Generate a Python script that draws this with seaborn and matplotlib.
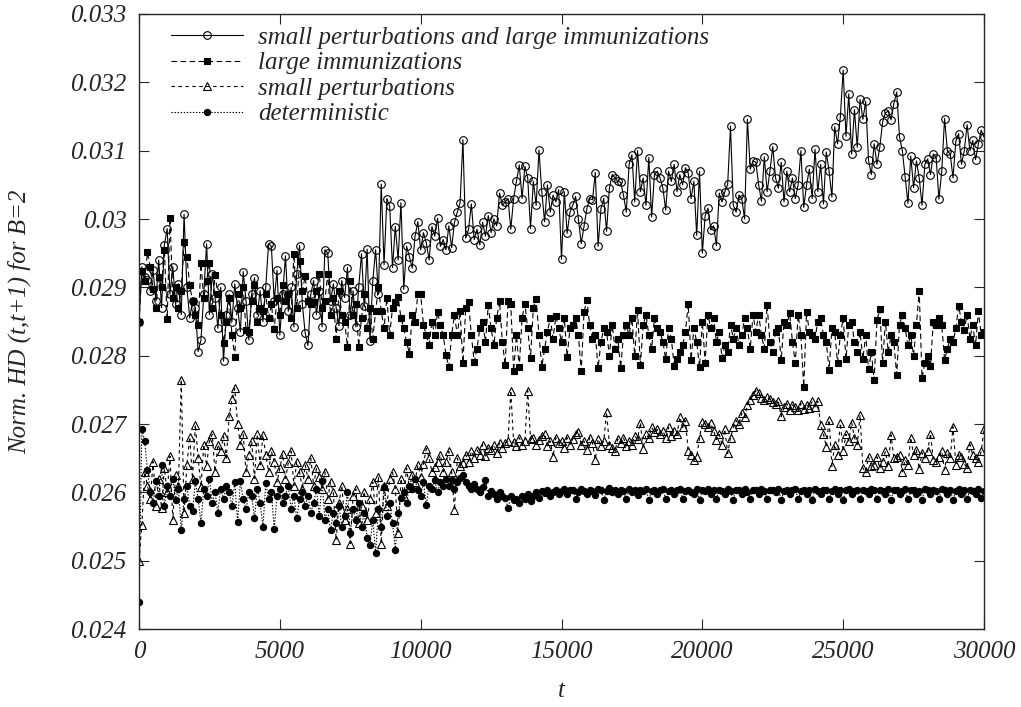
import numpy as np
import pandas as pd
import seaborn as sns
import matplotlib
matplotlib.use("Agg")
import matplotlib.pyplot as plt

# sample times (one point every 100 steps)
T_MAX = 30000
T_STEP = 100

# Norm. HD(t,t+1), in units of 1e-3
small_pert_large_imm = [
    28.50, 29.30, 29.15, 29.11, 28.95, 29.25, 28.80, 29.40, 28.70, 29.62,
    29.86, 28.90, 29.30, 28.75, 29.05, 28.60, 30.07, 29.00, 28.55, 28.80,
    28.70, 28.06, 28.23, 28.90, 29.64, 28.60, 29.20, 28.85, 28.40, 29.00,
    27.92, 28.60, 28.90, 28.50, 29.05, 28.70, 28.35, 29.23, 28.80, 28.23,
    28.90, 29.14, 28.60, 28.95, 28.50, 29.00, 29.64, 29.60, 28.80, 29.25,
    28.30, 28.90, 29.46, 28.65, 29.00, 28.42, 29.20, 29.61, 28.75, 28.33,
    28.15, 28.90, 29.10, 28.60, 28.95, 28.42, 29.55, 29.50, 28.80, 29.05,
    28.70, 28.44, 29.10, 28.85, 29.29, 28.60, 28.95, 28.42, 29.00, 29.49,
    28.72, 29.56, 28.22, 29.10, 29.55, 28.90, 30.51, 29.33, 30.30, 30.19,
    29.29, 29.89, 29.40, 30.24, 28.97, 29.60, 29.45, 29.28, 29.75, 29.96,
    29.55, 29.80, 29.65, 29.40, 29.89, 29.75, 30.01, 29.60, 29.70, 29.55,
    29.90, 29.58, 29.95, 30.10, 30.24, 31.16, 29.72, 29.85, 30.22, 29.70,
    29.85, 29.62, 29.95, 29.75, 30.05, 29.80, 30.00, 29.90, 30.38, 30.20,
    30.25, 30.30, 29.85, 30.30, 30.55, 30.79, 30.30, 30.77, 30.60, 29.86,
    30.55, 30.20, 31.01, 30.40, 29.96, 30.50, 30.10, 30.35, 30.25, 30.43,
    29.41, 30.40, 29.79, 30.10, 30.20, 30.33, 30.00, 29.64, 29.90, 30.15,
    30.30, 30.28, 30.68, 29.60, 30.15, 30.30, 29.82, 30.45, 30.65, 30.60,
    30.55, 30.54, 30.35, 30.10, 30.80, 30.94, 30.25, 31.00, 30.40, 30.60,
    30.20, 30.90, 30.03, 30.65, 30.70, 30.60, 30.45, 30.13, 30.70, 30.55,
    30.80, 30.40, 30.65, 30.50, 30.75, 30.67, 30.30, 30.55, 29.76, 30.70,
    29.50, 30.05, 30.16, 29.84, 29.90, 29.61, 30.38, 30.25, 30.40, 30.51,
    31.36, 30.20, 30.10, 30.35, 30.30, 30.00, 31.46, 30.73, 30.85, 30.83,
    30.50, 30.26, 30.91, 30.40, 30.70, 31.06, 30.60, 30.45, 30.83, 30.25,
    30.70, 30.40, 30.60, 30.30, 30.50, 31.00, 30.17, 30.50, 30.73, 30.30,
    31.02, 30.40, 30.80, 30.22, 30.98, 30.70, 30.32, 31.35, 31.10, 31.50,
    32.18, 31.21, 31.83, 30.95, 31.60, 31.05, 31.75, 31.46, 31.72, 30.86,
    30.65, 31.10, 30.80, 31.05, 31.42, 31.55, 31.58, 31.45, 31.69, 31.86,
    31.20, 31.00, 30.61, 30.23, 30.92, 30.46, 30.85, 30.60, 30.20, 30.80,
    30.88, 30.65, 30.95, 30.90, 30.29, 30.70, 31.47, 31.00, 30.95, 30.60,
    31.14, 31.25, 30.80, 31.00, 31.38, 31.00, 31.15, 30.87, 31.10, 31.30,
    31.20,
]

large_imm = [
    28.49, 29.24, 29.10, 29.51, 29.30, 28.98, 28.70, 29.15, 29.00, 29.55,
    28.53, 30.02, 28.85, 29.00, 28.70, 28.95, 29.67, 29.44, 29.03, 28.80,
    28.60, 28.45, 29.35, 28.84, 29.10, 29.35, 28.70, 29.18, 28.90, 28.60,
    28.19, 28.50, 28.85, 28.30, 27.98, 28.90, 28.70, 29.00, 28.37, 28.35,
    28.80, 29.03, 28.50, 28.70, 28.65, 28.90, 28.55, 28.75, 28.39, 28.85,
    28.60, 29.04, 28.80, 28.90, 28.55, 29.49, 28.70, 29.39, 28.95, 29.16,
    28.80, 28.75, 28.78, 28.95, 29.20, 28.70, 28.80, 29.20, 28.60, 28.85,
    28.25, 28.95, 28.60, 28.50, 28.13, 29.09, 28.60, 28.75, 28.13, 28.55,
    28.90, 28.40, 28.70, 28.25, 28.65, 29.00, 28.65, 28.40, 28.85, 28.30,
    28.70, 28.78, 28.86, 28.55, 28.40, 28.20, 28.03, 28.60, 28.50, 28.90,
    28.90, 28.45, 28.30, 28.16, 28.50, 28.30, 28.64, 28.45, 28.30, 28.01,
    27.83, 28.30, 28.60, 28.30, 28.65, 27.89, 28.70, 28.78, 28.30, 27.91,
    28.10, 28.40, 28.50, 28.20, 28.74, 28.40, 28.15, 28.55, 28.80, 28.20,
    27.86, 28.80, 28.75, 27.77, 28.30, 27.83, 28.55, 28.76, 28.40, 27.96,
    28.70, 28.83, 28.30, 27.84, 28.10, 28.35, 28.55, 28.25, 28.58, 28.40,
    28.20, 28.55, 27.98, 28.40, 28.45, 28.55, 28.30, 27.77, 28.64, 28.81,
    28.45, 28.25, 28.30, 27.82, 28.20, 28.40, 28.35, 28.00, 28.45, 28.10,
    28.25, 27.82, 28.30, 28.45, 28.30, 28.55, 28.00, 28.67, 27.86, 28.45,
    28.60, 28.30, 28.10, 28.55, 28.40, 28.35, 28.20, 27.95, 28.40, 28.25,
    27.85, 27.95, 28.05, 28.15, 28.35, 28.76, 27.94, 28.40, 28.20, 27.83,
    28.50, 27.90, 28.60, 28.40, 28.55, 28.20, 28.35, 27.96, 28.15, 28.05,
    28.45, 28.25, 28.40, 28.15, 28.30, 28.55, 28.40, 28.10, 28.60, 28.35,
    28.60, 28.30, 28.10, 28.74, 28.20, 28.05, 28.35, 28.40, 27.93, 28.50,
    28.45, 28.62, 28.20, 27.89, 28.60, 28.30, 27.54, 28.64, 28.35, 28.30,
    28.25, 28.50, 28.55, 28.30, 28.20, 27.79, 28.40, 28.35, 27.90, 28.30,
    28.55, 27.95, 28.45, 28.50, 28.20, 28.05, 28.35, 27.95, 28.30, 27.80,
    28.05, 27.64, 28.52, 28.68, 27.90, 28.50, 28.05, 28.30, 28.20, 27.72,
    28.45, 28.60, 28.40, 28.15, 28.30, 28.00, 28.45, 28.95, 27.67, 27.90,
    28.00, 27.85, 28.50, 28.45, 28.55, 28.45, 27.94, 28.10, 28.25, 28.20,
    28.40, 28.73, 28.50, 28.38, 28.60, 28.25, 28.45, 28.15, 28.65, 28.30,
    28.35,
]

small_pert = [
    25.00, 25.52, 26.30, 26.10, 25.90, 26.45, 25.80, 26.20, 25.77, 26.35,
    26.00, 26.53, 25.60, 26.25, 26.10, 27.65, 25.70, 26.40, 26.81, 26.20,
    26.99, 26.50, 26.08, 26.70, 26.39, 26.75, 26.85, 26.30, 26.70, 26.60,
    26.82, 26.50, 27.11, 27.36, 27.52, 27.00, 26.70, 26.85, 26.30, 26.55,
    26.75, 26.20, 26.85, 26.40, 26.84, 26.55, 26.30, 26.60, 26.45, 26.15,
    26.35, 26.56, 26.20, 26.43, 26.60, 26.10, 26.45, 26.30, 26.05, 26.40,
    26.20, 26.50, 26.10, 26.35, 26.23, 26.05, 26.30, 25.90, 26.15, 26.00,
    25.30, 25.85, 26.10, 25.60, 25.75, 25.25, 25.95, 26.05, 25.55, 25.80,
    26.01, 25.60, 25.90, 26.15, 25.70, 26.23, 25.25, 26.10, 25.80, 26.20,
    26.30, 26.05, 25.40, 26.20, 25.95, 26.35, 26.06, 26.25, 26.15, 26.40,
    26.23, 26.42, 26.64, 26.50, 26.30, 26.37, 26.45, 26.55, 26.30, 26.45,
    26.60, 26.30, 25.74, 26.50, 26.39, 26.43, 26.55, 26.45, 26.60, 26.50,
    26.62, 26.55, 26.70, 26.53, 26.65, 26.62, 26.70, 26.58, 26.72, 26.65,
    26.72, 26.75, 27.49, 26.73, 26.68, 26.80, 26.70, 26.75, 27.49, 26.78,
    26.80, 26.70, 26.77, 26.82, 26.86, 26.68, 26.75, 26.52, 26.80, 26.72,
    26.75, 26.65, 26.80, 26.70, 26.78, 26.85, 26.89, 26.70, 26.75, 26.62,
    26.80, 26.72, 26.48, 26.78, 26.68, 26.75, 27.17, 26.70, 26.65, 26.60,
    26.78, 26.72, 26.80, 26.68, 26.75, 26.70, 26.82, 26.78, 27.02, 26.64,
    26.85, 26.80, 26.95, 26.88, 26.92, 26.85, 26.90, 26.80, 26.95, 26.82,
    26.90, 26.85, 27.10, 26.95, 27.05, 26.60, 26.55, 26.48, 26.52, 26.80,
    27.03, 27.00, 26.95, 27.01, 26.90, 26.77, 26.85, 26.70, 26.92, 26.57,
    26.80, 26.95, 27.05, 27.00, 27.16, 27.10, 27.28, 27.35, 27.42, 27.49,
    27.45, 27.38, 27.35, 27.40, 27.36, 27.32, 27.30, 27.33, 27.11, 27.25,
    27.30, 27.20, 27.28, 27.25, 27.20, 27.30, 27.22, 27.28, 27.24, 27.33,
    27.25, 27.33, 26.99, 26.85, 26.67, 27.06, 26.38, 26.70, 26.55, 27.01,
    26.60, 26.85, 26.75, 27.02, 26.80, 26.70, 27.13, 26.35, 26.30, 26.52,
    26.38, 26.40, 26.52, 26.35, 26.45, 26.60, 26.38, 26.84, 26.50, 26.52,
    26.55, 26.30, 26.48, 26.40, 26.80, 26.55, 26.62, 26.34, 26.58, 26.50,
    26.60, 26.86, 26.48, 26.45, 26.52, 26.60, 26.33, 26.58, 26.50, 26.96,
    26.40, 26.55, 26.52, 26.42, 26.35, 26.70, 26.55, 26.50, 26.45, 26.60,
    26.92,
]

deterministic = [
    24.40, 26.93, 26.75, 26.33, 26.00, 25.85, 26.16, 25.95, 26.40, 25.80,
    26.10, 25.95, 26.20, 25.89, 26.05, 25.45, 25.90, 26.10, 25.80, 25.72,
    26.16, 25.90, 25.55, 26.05, 25.95, 26.20, 25.85, 26.00, 25.70, 26.05,
    25.90, 26.10, 26.00, 25.80, 26.15, 25.57, 26.16, 25.90, 25.75, 26.00,
    25.95, 25.62, 26.05, 25.85, 25.50, 26.13, 25.90, 26.00, 25.47, 25.95,
    26.05, 25.85, 25.95, 26.10, 25.75, 25.95, 25.62, 25.90, 26.00, 25.80,
    25.95, 25.70, 25.85, 26.05, 25.65, 26.16, 25.60, 25.75, 25.45, 25.70,
    25.55, 25.80, 25.50, 25.65, 26.01, 25.40, 25.75, 25.60, 25.85, 25.50,
    25.70, 25.33, 25.23, 25.60, 25.11, 25.75, 25.50, 26.08, 25.65, 25.85,
    25.55, 25.16, 25.70, 25.91, 26.00, 25.85, 26.10, 26.05, 26.20, 26.03,
    25.95, 26.15, 25.81, 26.10, 26.05, 26.18, 26.00, 26.15, 26.10, 26.20,
    26.10, 26.18, 26.05, 26.15, 26.21, 26.25, 26.15, 26.10, 26.05, 26.12,
    26.05, 26.00, 26.08, 26.18, 25.95, 26.02, 25.98, 25.90, 26.00, 25.95,
    25.92, 25.77, 25.95, 25.89, 25.90, 25.85, 25.95, 25.90, 25.98, 25.88,
    25.95, 26.00, 25.92, 26.02, 25.99, 26.04, 25.95, 26.01, 26.03, 25.98,
    26.02, 26.05, 25.97, 26.03, 26.04, 25.90, 26.01, 26.05, 26.02, 25.98,
    26.04, 26.02, 25.96, 26.05, 26.03, 25.89, 26.02, 26.06, 26.00, 26.03,
    25.97, 26.04, 26.02, 25.90, 26.05, 26.01, 26.03, 25.96, 26.04, 26.02,
    26.05, 25.89, 26.02, 26.04, 25.98, 26.03, 26.05, 25.90, 26.02, 26.04,
    25.97, 26.03, 26.05, 25.90, 26.02, 26.04, 26.01, 25.97, 26.05, 25.89,
    26.03, 26.02, 26.05, 25.98, 26.03, 25.90, 26.04, 26.02, 25.97, 26.05,
    26.02, 25.89, 26.04, 26.03, 25.98, 26.05, 26.01, 25.90, 26.03, 26.04,
    25.97, 26.05, 26.02, 25.90, 26.04, 26.03, 26.00, 26.05, 25.89, 26.02,
    26.04, 25.97, 26.03, 26.05, 25.90, 26.02, 26.04, 25.98, 26.03, 25.89,
    26.05, 26.02, 25.97, 26.04, 26.03, 25.90, 26.02, 26.05, 25.98, 26.04,
    25.89, 26.03, 26.05, 25.97, 26.02, 26.04, 25.90, 26.03, 26.02, 25.98,
    26.05, 26.03, 25.90, 26.04, 26.02, 25.97, 26.05, 25.89, 26.03, 26.04,
    25.98, 26.02, 26.05, 25.90, 26.03, 26.04, 25.97, 26.02, 25.89, 26.05,
    26.03, 25.97, 26.04, 26.02, 25.90, 26.05, 26.03, 25.98, 26.04, 25.89,
    26.02, 26.05, 25.97, 26.03, 25.90, 26.04, 26.02, 25.98, 26.05, 25.91,
    26.02,
]

labels = ["small perturbations and large immunizations", "large immunizations",
          "small perturbations", "deterministic"]
y_ticks = [0.024, 0.025, 0.026, 0.027, 0.028, 0.029, 0.030, 0.031, 0.032, 0.033]
x_ticks = [0, 5000, 10000, 15000, 20000, 25000, 30000]

sns.set_style("ticks")
plt.rcParams["font.family"] = ["Liberation Serif", "DejaVu Serif"]
plt.rcParams["font.style"] = "italic"
plt.rcParams["lines.scale_dashes"] = False

t = np.arange(0, T_MAX + 1, T_STEP)
series = [small_pert_large_imm, large_imm, small_pert, deterministic]
df = pd.DataFrame({"t": np.tile(t, 4),
                   "hd": np.concatenate(series) * 1e-3,
                   "run": np.repeat(labels, len(t))})

# gnuplot-like point types: open circle, filled square, open triangle, filled circle
styles = [
    dict(linestyle="-", marker="o", markersize=5.5, markerfacecolor="none"),
    dict(linestyle=(0, (4, 2.5)), marker="s", markersize=4.5, markerfacecolor="black"),
    dict(linestyle=(0, (2.5, 2.5)), marker="^", markersize=5.5, markerfacecolor="none"),
    dict(linestyle=(0, (1, 1.2)), marker="o", markersize=4.5, markerfacecolor="black"),
]

fig = plt.figure(figsize=(10.21, 7.07), dpi=100)
ax = fig.add_axes([139 / 1021, 1 - 629 / 707, 845 / 1021, 615 / 707])

for name, st in zip(labels, styles):
    sns.lineplot(data=df[df["run"] == name], x="t", y="hd", ax=ax, color="black",
                 linewidth=0.8, markeredgecolor="black", markeredgewidth=0.8,
                 estimator=None, errorbar=None, label=name, **st)

ax.set_xlim(0, T_MAX)
ax.set_ylim(0.024, 0.033)
ax.set_xticks(x_ticks)
ax.set_yticks(y_ticks)
ax.set_xticklabels([f"{v:g}" for v in x_ticks])
ax.set_yticklabels([f"{v:g}" for v in y_ticks])
ax.tick_params(direction="in", top=True, right=True, length=7, width=0.8,
               labelsize=18, pad=9)
for s in ax.spines.values():
    s.set_linewidth(1.0)

ax.set_xlabel("t", fontsize=18, labelpad=12)
ax.set_ylabel("Norm. HD (t,t+1) for B=2", fontsize=18)
ax.yaxis.set_label_coords(-0.128, 0.5)

ax.legend(loc="upper left", bbox_to_anchor=(0.0375, 0.98), frameon=False,
          fontsize=18, handlelength=2.9, handletextpad=0.6, labelspacing=0.12,
          borderpad=0, borderaxespad=0)

plt.savefig("out.png", dpi=100)
